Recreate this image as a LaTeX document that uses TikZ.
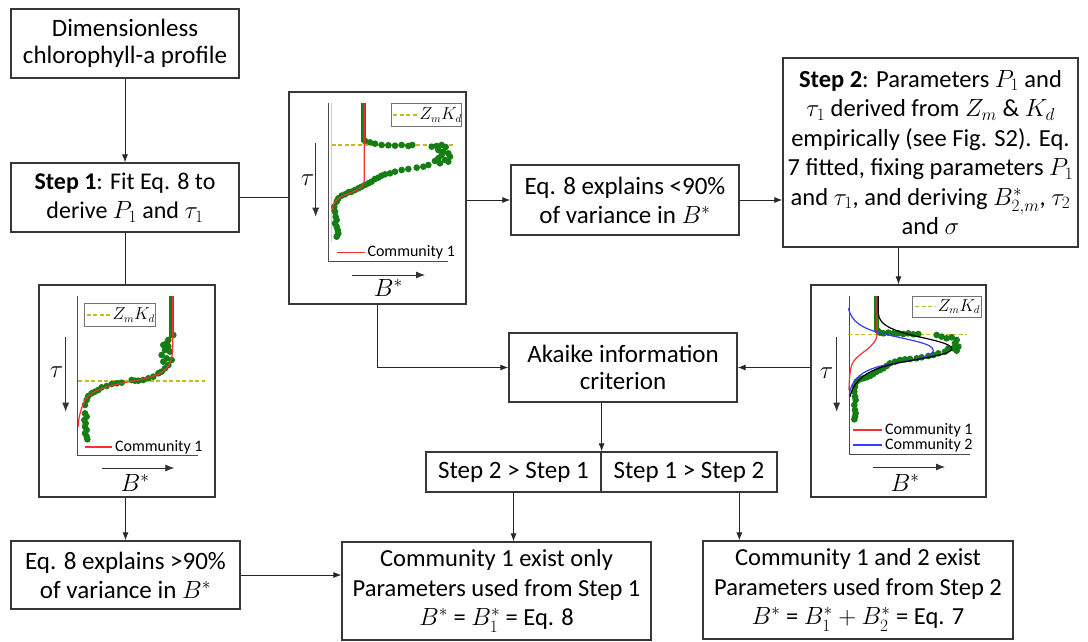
\documentclass[tikz,border=0pt]{standalone}
\usepackage{fontspec}
\setmainfont{Carlito}
\usetikzlibrary{arrows.meta,calc}
\definecolor{bord}{RGB}{55,55,55}
\definecolor{dgreen}{RGB}{20,125,20}
\definecolor{yel}{RGB}{200,185,30}
\definecolor{cred}{RGB}{245,50,50}
\definecolor{cblue}{RGB}{50,60,250}
\begin{document}
\begin{tikzpicture}[x=1pt,y=-1pt,
  box/.style={draw=bord, line width=1.2pt, inner sep=0pt, align=center, fill=white,
    font=\fontsize{25}{29}\selectfont},
  conn/.style={line width=0.9pt, draw=black!85},
  arr/.style={conn, -{Latex[length=8pt,width=6pt]}},
  axisln/.style={line width=1pt, draw=black!70},
  zmk/.style={yel, line width=1.5pt, dash pattern=on 4pt off 2.5pt},
  legbox/.style={draw=black!55, line width=0.8pt, fill=white},
  legtxt/.style={anchor=west, inner sep=0pt, font=\fontsize{16}{18}\selectfont},
  mathlbl/.style={inner sep=0pt, font=\fontsize{26}{28}\selectfont},
  smallarr/.style={line width=0.8pt, draw=black!80, -{Latex[length=9pt,width=7pt]}},
  grn/.style={dgreen, line width=5pt},
  redc/.style={cred, line width=1.2pt},
  bluec/.style={cblue, line width=1.2pt},
]
\useasboundingbox (0,0) rectangle (1088,642);

% ---------- text boxes ----------
\node[box, minimum width=228, minimum height=69, font=\fontsize{25}{27}\selectfont] (a) at (125,43.5) {Dimensionless\\chlorophyll-a profile};
\node[box, minimum width=228, minimum height=69, font=\fontsize{24}{29}\selectfont] (st1) at (125,197.5) {\textbf{Step 1}: Fit Eq. 8 to\\derive $P_1$ and $\tau_1$};
\node[box, minimum width=228, minimum height=70] (eq8lt) at (625,200) {Eq. 8 explains <90\%\\of variance in $B^*$};
\node[box, minimum width=295, minimum height=189, font=\fontsize{24.5}{29.5}\selectfont] (st2) at (930.5,152.5)
  {\textbf{Step 2}: Parameters $P_1$ and\\$\tau_1$ derived from $Z_m$ \& $K_d$\\empirically (see Fig. S2). Eq.\\7 fitted, fixing parameters $P_1$\\and $\tau_1$, and deriving $B^*_{2,m}$, $\tau_2$\\and $\sigma$};
\node[box, minimum width=228, minimum height=69, font=\fontsize{25}{27.5}\selectfont] (aic) at (623,367.5) {Akaike information\\criterion};
\node[box, minimum width=175, minimum height=40] (s21) at (513.5,472) {Step 2 > Step 1};
\node[box, minimum width=176, minimum height=40] (s12) at (689,472) {Step 1 > Step 2};
\node[box, minimum width=229, minimum height=68] (eq8gt) at (125.5,575) {Eq. 8 explains >90\%\\of variance in $B^*$};
\node[box, minimum width=309, minimum height=98, font=\fontsize{24.5}{29.5}\selectfont] (c1) at (496.5,591) {Community 1 exist only\\Parameters used from Step 1\\$B^*$ = $B^*_1$ = Eq. 8};
\node[box, minimum width=310, minimum height=98, font=\fontsize{24.5}{29.5}\selectfont] (c2) at (858,590) {Community 1 and 2 exist\\Parameters used from Step 2\\$B^*$ = $B^*_1+B^*_2$ = Eq. 7};

% ---------- plot frames ----------
\node[box, minimum width=177, minimum height=212] (p1) at (377.5,198) {};
\node[box, minimum width=176, minimum height=212] (p2) at (127,391) {};
\node[box, minimum width=175, minimum height=212] (p3) at (898.5,391) {};

% ---------- plot 1 (middle top) ----------
\begin{scope}[shift={(285,85)}, scale=0.33333]
  \draw[black!20, line width=0.6pt] (140,55) -- (140,470);
  \draw[axisln] (130,55) -- (130,530) -- (490,530);
  \draw[zmk] (140,180) -- (510,180);
  \draw[grn] (235,55) -- (235,172);
  \foreach \p in {(240,168),(255,172),(270,176),(290,180),(310,181),(330,182),(350,180),(370,183),(382,180),(440,185),(455,183),(470,180),(482,186),
    (460,195),(475,200),(490,205),(470,210),(495,215),(480,225),(460,220),(490,230),(465,235),(450,228),
    (430,240),(415,245),(395,248),(370,252),(350,255),(330,260),(315,265),(300,268),(290,272),(280,278),(270,282),(260,290),(250,295),(240,300),(230,305),(220,310),(210,315),(200,320),(190,322),(180,328),(170,332),(160,340),(155,350),(148,365),(150,380),(152,395),(155,405),(150,415),(155,425),(158,435),(160,445),(155,455)}
    \fill[dgreen] \p circle[radius=10];
  \draw[redc] (238,55) -- (238,280) .. controls (238,305) and (225,312) .. (200,322) .. controls (165,335) and (142,345) .. (140,380);
  \draw[legbox] (318,55) rectangle (528,125);
  \draw[zmk] (325,90) -- (395,90);
  \node[legtxt] at (403,90) {$Z_mK_d$};
  \node[mathlbl] at (68,285) {$\tau$};
  \draw[smallarr] (92,175) -- (92,395);
  \draw[redc] (155,502) -- (240,502);
  \node[legtxt] at (247,502) {Community 1};
  \draw[smallarr] (200,570) -- (420,570);
  \node[mathlbl] at (310,610) {$B^*$};
\end{scope}

% ---------- plot 2 (left) ----------
\begin{scope}[shift={(35,280)}, scale=0.33333]
  \draw[axisln] (128,48) -- (128,525) -- (490,525);
  \draw[zmk] (130,303) -- (510,303);
  \draw[grn] (410,48) -- (410,175);
  \foreach \p in {(415,165),(400,180),(395,190),(385,195),(400,200),(390,210),(405,215),(380,225),(395,235),(410,240),(385,245),(400,255),(390,265),(380,275),(370,280),(355,290),(340,295),(325,300),(310,302),(300,302),(290,300),(260,308),(245,310),(230,312),(215,318),(200,322),(190,330),(180,335),(170,340),(160,348),(155,360),(150,375),(150,400),(155,410),(148,420),(152,430),(150,440),(155,450),(150,460),(155,470),(157,478)}
    \fill[dgreen] \p circle[radius=10];
  \draw[redc] (413,48) -- (413,200) .. controls (413,265) and (390,285) .. (300,302)
     .. controls (200,320) and (160,335) .. (145,370) .. controls (135,395) and (130,420) .. (130,440);
  \draw[legbox] (148,70) rectangle (360,140);
  \draw[zmk] (155,105) -- (225,105);
  \node[legtxt] at (232,105) {$Z_mK_d$};
  \node[mathlbl] at (65,275) {$\tau$};
  \draw[smallarr] (92,170) -- (92,395);
  \draw[redc] (150,501) -- (232,501);
  \node[legtxt] at (240,502) {Community 1};
  \draw[smallarr] (200,564) -- (418,564);
  \node[mathlbl] at (300,609) {$B^*$};
\end{scope}

% ---------- plot 3 (right) ----------
\begin{scope}[shift={(805,280)}, scale=0.33333]
  \draw[axisln] (132,48) -- (132,522) -- (495,522);
  \draw[zmk] (130,163) -- (485,163);
  \draw[grn] (213,48) -- (213,155);
  \foreach \p in {(218,152),(225,158),(235,160),(250,158),(265,160),(280,160),(295,162),(310,160),(325,163),(340,162),
    (395,165),(410,170),(425,175),(440,172),(455,180),(450,190),(460,200),(445,205),(455,212),(430,205),(420,215),(400,220),(385,225),(370,228),(350,232),(335,235),(315,237),(300,238),(285,240),(270,245),(255,250),(245,258),(235,265),(225,270),(215,275),(205,282),(195,288),(185,292),(175,295),(165,298),(155,305),(150,320),(148,335),(150,350),(152,360),(148,375),(150,390),(152,400),(150,410),(148,418)}
    \fill[dgreen] \p circle[radius=10];
  \draw[redc] (216,48) -- (216,165) .. controls (214,200) and (160,220) .. (145,245) .. controls (135,262) and (133,290) .. (132,330);
  \draw[bluec] (130,85) .. controls (140,125) and (170,145) .. (230,160) .. controls (320,182) and (385,190) .. (385,212)
     .. controls (385,232) and (320,240) .. (240,255) .. controls (170,270) and (135,300) .. (133,350);
  \draw[black, line width=1.2pt] (220,48) -- (220,100) .. controls (222,135) and (260,150) .. (330,168) .. controls (410,185) and (442,195) .. (440,207)
     .. controls (438,222) and (380,230) .. (300,245) .. controls (200,262) and (150,290) .. (135,350);
  \draw[legbox] (322,48) rectangle (528,112);
  \draw[zmk] (330,80) -- (390,80);
  \node[legtxt] at (398,80) {$Z_mK_d$};
  \node[mathlbl] at (65,280) {$\tau$};
  \draw[smallarr] (95,170) -- (95,395);
  \draw[redc] (145,450) -- (230,450);
  \node[legtxt] at (240,450) {Community 1};
  \draw[bluec] (145,495) -- (230,495);
  \node[legtxt] at (240,495) {Community 2};
  \draw[smallarr] (205,561) -- (420,561);
  \node[mathlbl] at (300,609) {$B^*$};
\end{scope}

% ---------- connectors ----------
\draw[arr] (a) -- (st1);
\draw[conn] (st1.east) -- (st1.east -| p1.west);
\draw[arr] (p1.east |- eq8lt.west) -- (eq8lt.west);
\draw[arr] (eq8lt.east) -- (eq8lt.east -| st2.west);
\draw[arr] (p3.north |- st2.south) -- (p3.north);
\draw[arr] (aic.east -| p3.west) -- (aic.east);
\draw[arr] (p1.south) |- (aic.west);
\draw[arr] (s21.north east |- aic.south) -- (s21.north east);
\draw[arr] (s21.south) -- (s21.south |- c1.north);
\coordinate (s12b) at ($(s12.south west)!0.784!(s12.south east)$);
\draw[arr] (s12b) -- (s12b |- c2.north);
\draw[conn] (st1.south) -- (st1.south |- p2.north);
\draw[arr] (p2.south -| eq8gt.north) -- (eq8gt.north);
\draw[arr] (eq8gt.east) -- (eq8gt.east -| c1.west);
\end{tikzpicture}
\end{document}
